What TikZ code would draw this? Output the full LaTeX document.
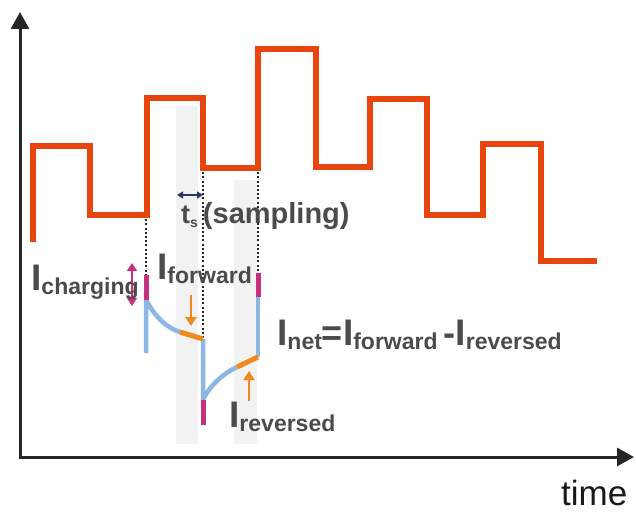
\documentclass[tikz,border=0pt]{standalone}
\usepackage{fontspec}
\setmainfont{Liberation Sans}
\usetikzlibrary{arrows.meta}

\definecolor{wavered}{RGB}{232,70,14}
\definecolor{tracegray}{RGB}{75,75,75}
\definecolor{bandgray}{RGB}{242,242,242}
\definecolor{traceblue}{RGB}{140,182,228}
\definecolor{chargepink}{RGB}{199,48,127}
\definecolor{sampleorange}{RGB}{240,138,30}
\definecolor{navy}{RGB}{40,58,105}

% Current label: big I with a lowered subscript
\newcommand{\curr}[1]{{\fontsize{37}{37}\selectfont\textbf{I}}\raisebox{-4pt}{\fontsize{23}{23}\selectfont\textbf{#1}}}
\newcommand{\bigsym}[1]{{\fontsize{36}{36}\selectfont\textbf{#1}}}

\begin{document}
\begin{tikzpicture}[x = 1pt, y = -1pt,
	every node/.style = {text = tracegray, inner sep = 0pt, anchor = base west},
	axis/.style = {line width = 3pt, black!85, {Triangle[length = 17pt, width = 18pt]}-{Triangle[length = 17pt, width = 18pt]}},
	wave/.style = {line width = 6pt, wavered},
	sampleline/.style = {line width = 1.7pt, black!85, dash pattern = on 2pt off 2.2pt},
	blueline/.style = {line width = 4.5pt, traceblue},
	pinkline/.style = {line width = 5pt, chargepink},
	orangeline/.style = {line width = 5pt, sampleorange},
	orangearrow/.style = {line width = 2pt, sampleorange, -{Triangle[length = 9pt, width = 11pt]}}]

	\useasboundingbox (0, 0) rectangle (636, 513);

	% Sampling windows
	
	\fill [bandgray] (176, 106) rectangle (198, 444);
	\fill [bandgray] (234, 180) rectangle (257, 444);

	% Key points of the current trace
	
	\coordinate (c top) at (146, 275);
	\coordinate (c knee) at (146, 300);
	\coordinate (c foot) at (146, 353);
	\coordinate (f start) at (180, 332);
	\coordinate (f end) at (203, 339);
	\coordinate (d knee) at (203, 400);
	\coordinate (d foot) at (203, 425);
	\coordinate (r start) at (237, 367);
	\coordinate (r end) at (258, 357);
	\coordinate (e knee) at (258, 297);
	\coordinate (e top) at (258, 273);

	% Dotted guides from the steps
	
	\draw [sampleline] (146, 215) -- (c top);
	\draw [sampleline] (203, 168) -- (f end);
	\draw [sampleline] (258, 168) -- (e top);

	% Applied staircase
	
	\draw [wave] (33, 242) foreach \x/\y in {90/146, 147/215, 203/98, 258/168, 316/49, 370/167, 427/99, 483/215, 541/144, 597/261} { |- (\x, \y) };

	% Axes
	
	\coordinate (origin) at (20, 457);
	\coordinate (ytip) at (20, 12);
	\coordinate (xtip) at (634, 457);
	\draw [axis] (ytip) -- (origin) -- (xtip);

	% Current response
	
	\draw [blueline] (c foot) -- (c knee) .. controls (156, 318) and (167, 328) .. (f start);
	\draw [blueline] (f end) -- (d knee) .. controls (209, 386) and (224, 373) .. (r start);
	\draw [blueline] (r end) -- (e knee);
	\draw [orangeline] (f start) -- (f end);
	\draw [orangeline] (r start) -- (r end);
	\draw [pinkline] (c top) -- (c knee);
	\draw [pinkline] (d knee) -- (d foot);
	\draw [pinkline] (e top) -- (e knee);

	% Markers
	
	\coordinate (fwd tail) at (191, 295);
	\coordinate (fwd tip) at (191, 326);
	\coordinate (rev tail) at (249, 401);
	\coordinate (rev tip) at (249, 371);
	\draw [orangearrow] (fwd tail) -- (fwd tip);
	\draw [orangearrow] (rev tail) -- (rev tip);
	
	\coordinate (chg up) at (132, 263);
	\coordinate (chg down) at (132, 306);
	\draw [line width = 1.5pt, chargepink, {Triangle[length = 8pt, width = 10pt]}-{Triangle[length = 8pt, width = 10pt]}] (chg up) -- (chg down);
	
	\coordinate (ts left) at (177, 195);
	\coordinate (ts right) at (203, 195);
	\draw [line width = 1.2pt, navy, {Triangle[length = 6pt, width = 7pt]}-{Triangle[length = 6pt, width = 7pt]}] (ts left) -- (ts right);

	% Labels
	
	\node (icharge) at (31, 290) {\curr{charging}};
	\node (iforward) at (157, 279) {\curr{forward}};
	\node (ireverse) at (229, 427) {\curr{reversed}};
	\node (inet) at (277, 345) {\curr{net}\bigsym{=}\curr{forward}\hspace{6pt}\bigsym{-}\curr{reversed}};
	\node (tsample) at (181, 223) {{\fontsize{27}{27}\selectfont\textbf{t}}\raisebox{-4pt}{\fontsize{14}{14}\selectfont\textbf{s}}\hspace{5pt}{\fontsize{29}{29}\selectfont\textbf{(sampling)}}};
	\node [text = black!90] (timelabel) at (561, 505) {\fontsize{35}{35}\selectfont time};

\end{tikzpicture}
\end{document}
